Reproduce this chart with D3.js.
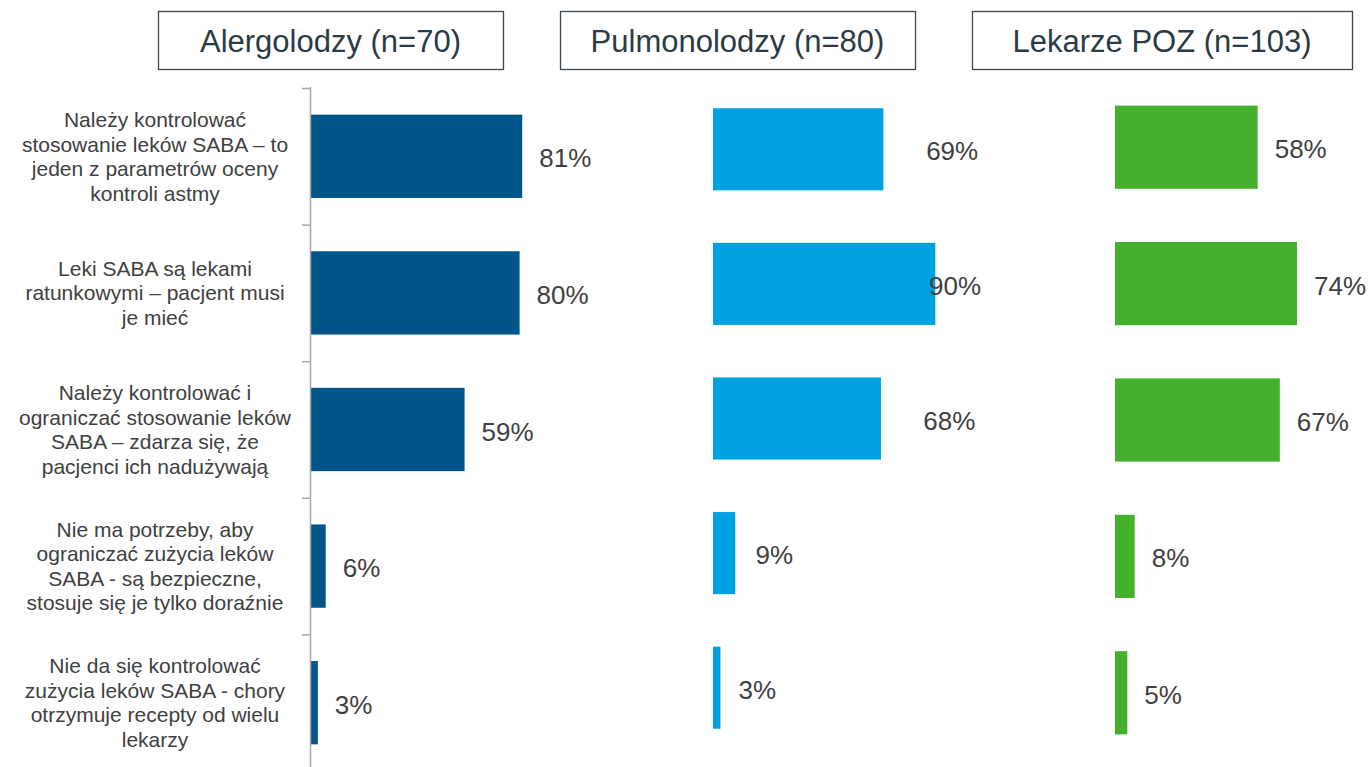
<!DOCTYPE html>
<html>
<head>
<meta charset="utf-8">
<script src="https://cdn.jsdelivr.net/npm/d3@7"></script>
<style>
  body { margin: 0; background: #fff; }
  svg text { font-family: "Liberation Sans", Arial, sans-serif; }
</style>
</head>
<body>
<div id="chart"></div>
<script>
//____________________________DATA________________________//
const categories = [
    ["Należy kontrolować", "stosowanie leków SABA – to", "jeden z parametrów oceny", "kontroli astmy"],
    ["Leki SABA są lekami", "ratunkowymi – pacjent musi", "je mieć"],
    ["Należy kontrolować i", "ograniczać stosowanie leków", "SABA – zdarza się, że", "pacjenci ich nadużywają"],
    ["Nie ma potrzeby, aby", "ograniczać zużycia leków", "SABA - są bezpieczne,", "stosuje się je tylko doraźnie"],
    ["Nie da się kontrolować", "zużycia leków SABA - chory", "otrzymuje recepty od wielu", "lekarzy"]
]

const groupTitles = ["Alergolodzy (n=70)", "Pulmonolodzy (n=80)", "Lekarze POZ (n=103)"]

const alergolodzy = [81, 80, 59, 6, 3]
const pulmonolodzy = [69, 90, 68, 9, 3]
const lekarzePoz = [58, 74, 67, 8, 5]

//____________________________LAYOUT________________________//
const WIDTH = 1368
const HEIGHT = 767

const svg = d3.select('#chart').append('svg')
    .attr('width', WIDTH)
    .attr('height', HEIGHT)

const panels = [
    {values: alergolodzy, color: '#00558a', x0: 310, pxPer100: 262, band: [88, 771],
        box: [158, 503], labelScale: null},
    {values: pulmonolodzy, color: '#00a1e0', x0: 713, pxPer100: 247, band: [82, 755],
        box: [560, 915], labelScale: d3.scaleLinear().domain([0, 70]).range([0, 199]).clamp(true)},
    {values: lekarzePoz, color: '#44b02c', x0: 1115, pxPer100: 246, band: [79, 761],
        box: [972, 1352], labelScale: null}
]

const idx = d3.range(categories.length)

//______TITLE BOXES____//
panels.forEach((p, i) => {
    const g = svg.append('g').attr('class', 'title')
    g.append('rect')
        .attr('x', p.box[0] + 0.5)
        .attr('y', 11.5)
        .attr('width', p.box[1] - p.box[0])
        .attr('height', 58)
        .attr('fill', 'white')
        .attr('stroke', '#3b4750')
        .attr('stroke-width', 1.3)
    g.append('text')
        .attr('x', (p.box[0] + p.box[1]) / 2)
        .attr('y', 41)
        .attr('text-anchor', 'middle')
        .attr('dominant-baseline', 'central')
        .attr('font-size', 31)
        .attr('fill', '#2b3a44')
        .text(groupTitles[i])
})

//______BARS____//
panels.forEach(p => {
    const y = d3.scaleBand()
        .domain(idx)
        .range(p.band)
        .paddingInner(0.39)
        .paddingOuter(0.195)

    const x = d3.scaleLinear()
        .domain([0, 100])
        .range([p.x0, p.x0 + p.pxPer100])

    const g = svg.append('g').attr('class', 'panel')

    g.selectAll('rect')
        .data(p.values)
        .join('rect')
        .attr('x', x(0))
        .attr('y', (d, i) => y(i))
        .attr('width', d => x(d) - x(0))
        .attr('height', y.bandwidth())
        .attr('fill', p.color)

    g.selectAll('text')
        .data(p.values)
        .join('text')
        .attr('x', d => (p.labelScale ? p.x0 + p.labelScale(d) : x(d)) + 17)
        .attr('y', (d, i) => y(i) + y.bandwidth() / 2 + 2)
        .attr('dominant-baseline', 'central')
        .attr('font-size', 26)
        .attr('fill', '#404040')
        .text(d => d + '%')
})

//______CATEGORY AXIS (first panel only)____//
const yAxisScale = d3.scaleBand()
    .domain(idx)
    .range([88, 771])

const axisG = svg.append('g').attr('class', 'axis')

axisG.append('line')
    .attr('x1', 310.5).attr('x2', 310.5)
    .attr('y1', 87).attr('y2', HEIGHT)
    .attr('stroke', '#a6a6a6')
    .attr('stroke-width', 1.5)

axisG.selectAll('line.tick')
    .data(idx)
    .join('line')
    .attr('class', 'tick')
    .attr('x1', 302).attr('x2', 310)
    .attr('y1', d => yAxisScale(d) + 0.5)
    .attr('y2', d => yAxisScale(d) + 0.5)
    .attr('stroke', '#a6a6a6')
    .attr('stroke-width', 1.5)

const LINE_H = 24.5
axisG.selectAll('text.cat')
    .data(categories)
    .join('text')
    .attr('class', 'cat')
    .attr('text-anchor', 'middle')
    .attr('font-size', 21)
    .attr('fill', '#404040')
    .each(function (lines, i) {
        const cy = yAxisScale(i) + yAxisScale.bandwidth() / 2
        const top = cy - (lines.length - 1) * LINE_H / 2
        d3.select(this).selectAll('tspan')
            .data(lines)
            .join('tspan')
            .attr('x', 155)
            .attr('y', (d, j) => top + j * LINE_H)
            .attr('dominant-baseline', 'central')
            .text(d => d)
    })
</script>
</body>
</html>
